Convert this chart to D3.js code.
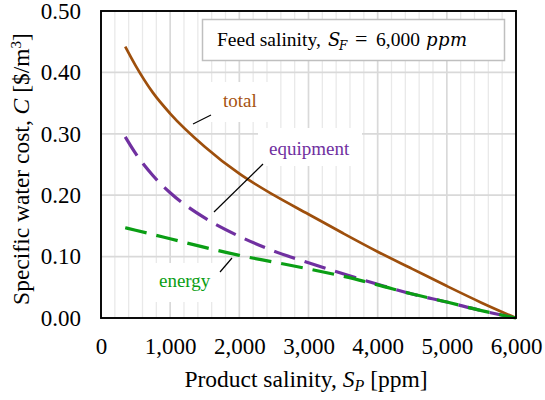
<!DOCTYPE html>
<html>
<head>
<meta charset="utf-8">
<script src="https://cdn.jsdelivr.net/npm/d3@7"></script>
<style>
  html, body { margin: 0; padding: 0; background: #fff; }
</style>
</head>
<body>
<svg id="chart" width="545" height="400"></svg>
<script>
// ---- data ----
const salinity  = [350, 500, 750, 1000, 1500, 2000, 2500, 3000, 3500, 4000, 4500, 5000, 5500, 6000];
const total     = [0.442, 0.411, 0.367, 0.333, 0.279, 0.235, 0.200, 0.169, 0.138, 0.108, 0.080, 0.052, 0.025, 0];
const equipment = [0.295, 0.268, 0.232, 0.204, 0.163, 0.133, 0.109, 0.090, 0.072, 0.055, 0.039, 0.026, 0.012, 0];
const energy    = [0.147, 0.143, 0.136, 0.129, 0.115, 0.102, 0.091, 0.080, 0.068, 0.054, 0.039, 0.026, 0.012, 0];
const xTicks = [0, 1000, 2000, 3000, 4000, 5000, 6000];
const yTicks = [0, 0.1, 0.2, 0.3, 0.4, 0.5];

const FONT = '"Liberation Serif", "Times New Roman", serif';
const MATH = '"DejaVu Serif", "Liberation Serif", serif';
const svg = d3.select("#chart").style("font-family", FONT);
const L = 101, R = 516, T = 11, B = 318;
const x = d3.scaleLinear().domain([0, 6000]).range([L, R]);
const y = d3.scaleLinear().domain([0, 0.5]).range([B, T]);

// minor vertical grid
const minor = d3.range(200, 6000, 200).filter(v => v % 1000 !== 0);
svg.append("g").selectAll("line").data(minor).join("line")
  .attr("x1", d => x(d)).attr("x2", d => x(d)).attr("y1", T).attr("y2", B)
  .attr("stroke", "#e9e9e9").attr("stroke-width", 1.3);
// major vertical grid
svg.append("g").selectAll("line").data(xTicks.slice(1, -1)).join("line")
  .attr("x1", d => x(d)).attr("x2", d => x(d)).attr("y1", T).attr("y2", B)
  .attr("stroke", "#d9d9d9").attr("stroke-width", 1.7);
// horizontal grid
svg.append("g").selectAll("line").data(yTicks.slice(1, -1)).join("line")
  .attr("x1", L).attr("x2", R).attr("y1", d => y(d)).attr("y2", d => y(d))
  .attr("stroke", "#d9d9d9").attr("stroke-width", 1.7);

// white label boxes
const boxes = [
  [205, 82, 72, 40],
  [258, 128, 104, 38],
  [150, 263, 68, 39]
];
svg.append("g").selectAll("rect").data(boxes).join("rect")
  .attr("x", d => d[0]).attr("y", d => d[1]).attr("width", d => d[2]).attr("height", d => d[3])
  .attr("fill", "#fff");

// legend box
svg.append("rect").attr("x", 202.5).attr("y", 19.5).attr("width", 302).attr("height", 41)
  .attr("fill", "#fff").attr("stroke", "#bfbfbf").attr("stroke-width", 1.5);
const lg = svg.append("text").attr("y", 46).style("font-size", "19.5px")
  .style("font-family", FONT).attr("fill", "#000");
lg.append("tspan").attr("x", 217).text("Feed salinity,");
lg.append("tspan").attr("x", 328).style("font-style", "italic").style("font-family", MATH).style("font-size", "18px").text("S");
lg.append("tspan").attr("x", 339).style("font-style", "italic").style("font-family", MATH).style("font-size", "12px").attr("dy", 4).text("F");
lg.append("tspan").attr("x", 355).attr("dy", -4).style("font-size", "22px").text("=");
lg.append("tspan").attr("x", 376).text("6,000");
lg.append("tspan").attr("x", 426).style("font-style", "italic").style("font-family", MATH).style("font-size", "18px")
  .style("letter-spacing", "0.5px").text("ppm");

// lines
const line = d3.line().x(d => x(d[0])).y(d => y(d[1])).curve(d3.curveMonotoneX);
const series = [
  { vals: total, color: "#9e4f0c", w: 2.7, dash: null },
  { vals: equipment, color: "#7030a0", w: 3.2, dash: "22,10" },
  { vals: energy, color: "#0a9e14", w: 3.2, dash: "22,10" }
];
svg.append("g").selectAll("path").data(series).join("path")
  .attr("d", s => line(salinity.map((v, i) => [v, s.vals[i]])))
  .attr("fill", "none").attr("stroke", s => s.color).attr("stroke-width", s => s.w)
  .attr("stroke-dasharray", s => s.dash);

// frame
svg.append("rect").attr("x", L).attr("y", T).attr("width", R - L).attr("height", B - T)
  .attr("fill", "none").attr("stroke", "#000").attr("stroke-width", 1.9);

// axes
const xAxis = svg.append("g").attr("transform", `translate(0,${B})`)
  .call(d3.axisBottom(x).tickValues(xTicks).tickSize(0).tickPadding(20).tickFormat(d3.format(",")));
xAxis.select(".domain").remove();
xAxis.attr("font-family", null).attr("font-size", null);
xAxis.selectAll("text").style("font-size", "23px").attr("fill", "#000").style("font-family", FONT);

const yAxis = svg.append("g").attr("transform", `translate(${L},0)`)
  .call(d3.axisLeft(y).tickValues(yTicks).tickSize(0).tickPadding(20).tickFormat(d3.format(".2f")));
yAxis.select(".domain").remove();
yAxis.attr("font-family", null).attr("font-size", null);
yAxis.selectAll("text").style("font-size", "23px").attr("fill", "#000").style("font-family", FONT);

// axis titles
const xt = svg.append("text").attr("x", 306).attr("y", 387).attr("text-anchor", "middle")
  .style("font-size", "23.5px").style("font-family", FONT).attr("fill", "#000");
xt.append("tspan").text("Product salinity, ");
xt.append("tspan").style("font-style", "italic").text("S");
xt.append("tspan").style("font-style", "italic").style("font-size", "16px").attr("dy", 4).text("P");
xt.append("tspan").attr("dy", -4).text(" [ppm]");

const yt = svg.append("text").attr("transform", "translate(29,169) rotate(-90)")
  .attr("text-anchor", "middle").style("font-size", "23.5px").style("font-family", FONT).attr("fill", "#000");
yt.append("tspan").text("Specific water cost, ");
yt.append("tspan").style("font-style", "italic").text("C");
yt.append("tspan").text(" [$/m");
yt.append("tspan").style("font-size", "15px").attr("dy", -8).text("3");
yt.append("tspan").attr("dy", 8).text("]");

// annotations
const ann = [
  { t: "total", x: 223, y: 107, c: "#a5520f", l: [193, 124, 211, 115] },
  { t: "equipment", x: 269, y: 155, c: "#7030a0", l: [214, 212, 263, 164] },
  { t: "energy", x: 159, y: 287, c: "#0a9e14", l: [220, 272, 232, 258] }
];
svg.append("g").selectAll("line").data(ann).join("line")
  .attr("x1", d => d.l[0]).attr("y1", d => d.l[1]).attr("x2", d => d.l[2]).attr("y2", d => d.l[3])
  .attr("stroke", "#000").attr("stroke-width", 1.2);
svg.append("g").selectAll("text").data(ann).join("text")
  .attr("x", d => d.x).attr("y", d => d.y).style("font-size", "19px").style("font-family", FONT)
  .attr("fill", d => d.c).text(d => d.t);
</script>
</body>
</html>
